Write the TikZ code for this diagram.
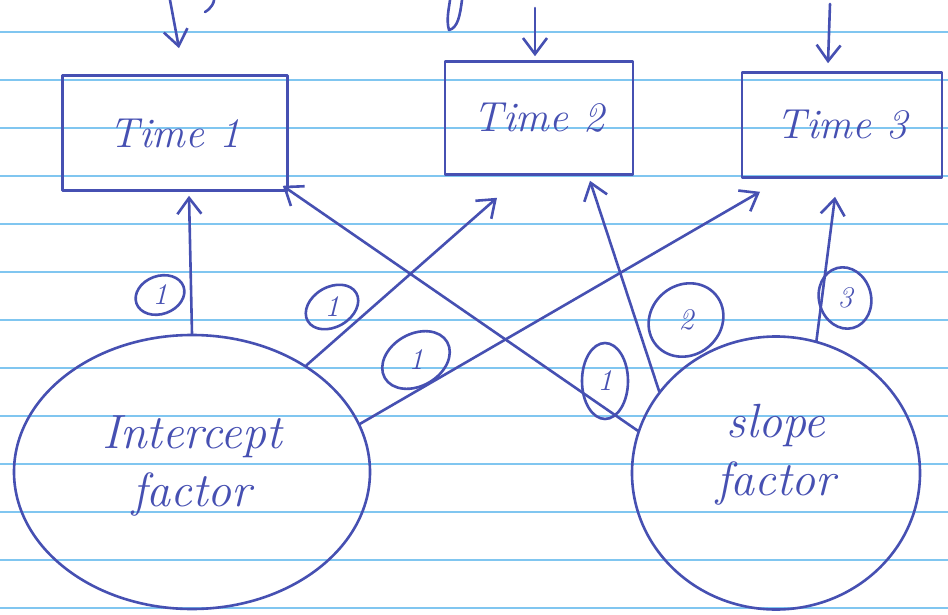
\documentclass[tikz,border=0pt]{standalone}
\usetikzlibrary{arrows.meta,shapes.geometric,calc}
\definecolor{pen}{RGB}{70,80,178}
\definecolor{ruling}{RGB}{128,198,240}
\newcommand\handfont{\fontsize{42}{54}\selectfont\itshape}
\newcommand\bighandfont{\fontsize{48}{58}\selectfont\itshape}
\newcommand\numfont{\fontsize{30}{34}\selectfont\itshape}
\begin{document}
\begin{tikzpicture}[x=1pt,y=-1pt,
  pen/.style={draw=pen, line width=2.6pt, line cap=round, line join=round},
  tbox/.style={pen, rectangle, inner sep=0pt, font=\handfont, text=pen},
  fac/.style={pen, ellipse, inner sep=0pt},
  wt/.style={pen, ellipse, inner sep=0pt, font=\numfont, text=pen},
  arr/.style={pen, -{Straight Barb[length=16pt,width=24pt,line width=2.6pt]}}]
\useasboundingbox (0,0) rectangle (948,615);
\fill[white] (0,0) rectangle (948,615);

% ruled paper
\foreach \yy in {32,80,...,608}
  \draw[ruling, line width=1.4pt] (0,\yy) -- (948,\yy);

% measurement boxes
\node[tbox, minimum width=225pt, minimum height=115pt] (t1) at (175,133) {Time 1};
\node[tbox, minimum width=188pt, minimum height=113pt] (t2) at (539,118) {Time 2};
\node[tbox, minimum width=200pt, minimum height=105pt] (t3) at (842,125) {Time 3};

% latent factors
\node[fac, minimum width=356pt, minimum height=274pt] (i) at (192,472) {};
\node[font=\bighandfont, text=pen, align=center] (itext) at (192,466) {Intercept\\factor};
\node[fac, minimum width=288pt, minimum height=273pt] (s) at (776,473) {};
\node[font=\bighandfont, text=pen, align=center] (stext) at (776,455) {slope\\factor};

% residual arrows entering from above
\coordinate (e1) at (170,0);
\coordinate (e2) at (535,8);
\coordinate (e3) at (830,4);
\draw[arr] (e1) -- ($(t1.north)+(4,-26)$);
\draw[arr] (e2) -- ($(t2.north)+(-4,-4)$);
\draw[arr] (e3) -- ($(t3.north)+(-14,-8)$);
\draw[pen] (205,12) .. controls (212,8) and (214,2) .. (214,0);
\draw[pen] (462,0) .. controls (460,15) and (458,28) .. (449,30) .. controls (446,20) and (449,8) .. (450,0);

% loadings
\draw[arr] (i.north) -- ($(t1.south)+(14,4)$);
\draw[arr] (i.43) -- ($(t2.south)+(-42,22)$);
\draw[arr] (i.16) -- ($(t3.south)+(-82,13)$);
\draw[arr] (s.163) -- ($(t1.south east)+(-6,-6)$);
\draw[arr] (s.145) -- ($(t2.south)+(51,5)$);
\draw[arr] (s.73) -- ($(t3.south)+(-7,18)$);

% loading values (ellipse tilted, digit kept upright)
\node[wt, minimum width=50pt, minimum height=38pt, rotate=20] (w1) at (160,295) {\rotatebox{-20}{1}};
\node[wt, minimum width=56pt, minimum height=40pt, rotate=30] (w2) at (332,307) {\rotatebox{-30}{1}};
\node[wt, minimum width=72pt, minimum height=52pt, rotate=30] (w3) at (416,360) {\rotatebox{-30}{1}};
\node[wt, minimum width=46pt, minimum height=76pt] (w4) at (605,381) {1};
\node[wt, minimum width=78pt, minimum height=70pt, rotate=40] (w5) at (686,320) {\rotatebox{-40}{2}};
\node[wt, minimum width=52pt, minimum height=62pt, rotate=15] (w6) at (845,298) {\rotatebox{-15}{3}};
\end{tikzpicture}
\end{document}
